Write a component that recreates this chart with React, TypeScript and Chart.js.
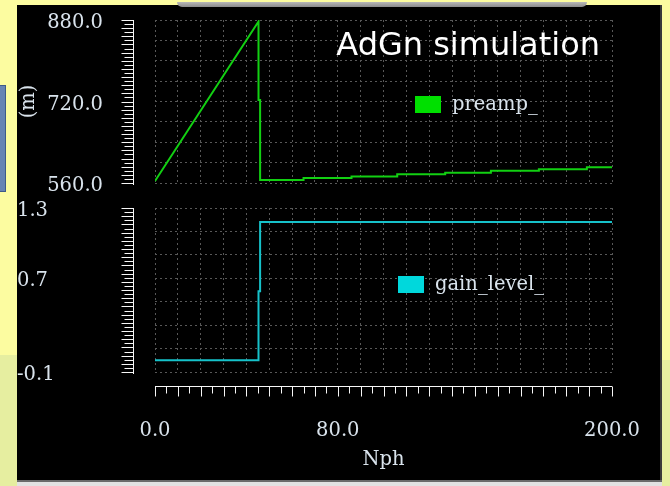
import React, { useEffect, useRef } from 'react';
import { Chart, registerables } from 'chart.js';

Chart.register(...registerables);

// ---- data ----
const nphPreamp = [0, 45.3, 45.3, 46.0, 46.0, 65, 65, 86, 86, 106, 106, 127, 127, 147, 147, 168, 168, 189, 189, 200];
const preampValues = [564, 877, 723, 723, 566, 566, 570, 570, 573, 573, 577, 577, 580, 580, 584, 584, 587, 587, 591, 591];
const nphGain = [0, 45.3, 45.3, 46.0, 46.0, 200];
const gainValues = [0, 0, 0.59, 0.59, 1.18, 1.18];

const xRange = [0, 200];
const preampRange = [560, 880];
const gainRange = [-0.1, 1.3];
const xTickLabelValues = [0, 80, 200];
const preampTickLabelValues = [560, 720, 880];
const gainTickLabelValues = [-0.1, 0.7, 1.3];
const xGridStep = 10;
const preampGridStep = 40;
const gainGridStep = 0.2;

const seriesNames = ['preamp_', 'gain_level_'];
const chartTitle = 'AdGn simulation';
const preampAxisTitle = '(m)';
const xAxisTitle = 'Nph';

// ---- styles ----
const TEXT = '#d9e3ec';
const SERIF = "'DejaVu Serif', serif";
const FONT = { family: SERIF, size: 19.5 };
const GRID = { color: '#585858', lineWidth: 1, drawTicks: false, tickLength: 0 };
const BORDER = { display: false, dash: [2, 3] };
const NOGRID = { display: false, drawTicks: false, tickLength: 0 };

const fixedTicks = (values: number[]) => (s: any) => {
  s.ticks = values.map((value) => ({ value }));
};
const fmt = (v: any) => Number(v).toFixed(1);

const rulerPlugin = {
  id: 'ruler',
  afterDraw(chart: any, _a: any, opts: any) {
    const ctx = chart.ctx;
    const { left, bottom } = chart.chartArea;
    ctx.save();
    ctx.strokeStyle = '#f6f6f6';
    ctx.lineWidth = 1;
    const n = opts.divisions;
    const sy = chart.scales.y;
    const x0 = Math.round(left - 22) + 0.5;
    ctx.beginPath();
    ctx.moveTo(x0, sy.getPixelForValue(sy.max));
    ctx.lineTo(x0, sy.getPixelForValue(sy.min) + 2);
    for (let i = 0; i <= n; i++) {
      const v = sy.max - ((sy.max - sy.min) * i) / n;
      const y = Math.round(sy.getPixelForValue(v)) + 0.5;
      const len = i % 2 === 0 ? 12 : 9;
      ctx.moveTo(x0, y);
      ctx.lineTo(x0 - len, y);
    }
    ctx.stroke();
    if (opts.x) {
      const sx = chart.scales.x;
      const y0 = Math.round(bottom + 14) + 0.5;
      ctx.beginPath();
      ctx.moveTo(sx.getPixelForValue(sx.min), y0);
      ctx.lineTo(sx.getPixelForValue(sx.max), y0);
      for (let i = 0; i <= n; i++) {
        const v = sx.min + ((sx.max - sx.min) * i) / n;
        const x = Math.round(sx.getPixelForValue(v)) + 0.5;
        const len = i % 2 === 0 ? 10 : 7;
        ctx.moveTo(x, y0);
        ctx.lineTo(x, y0 + len);
      }
      ctx.stroke();
    }
    ctx.restore();
  },
};

const boxLegendPlugin = {
  id: 'boxLegend',
  afterDatasetsDraw(chart: any, _a: any, opts: any) {
    const ctx = chart.ctx;
    const { left, top, width, height } = chart.chartArea;
    ctx.save();
    chart.data.datasets.forEach((ds: any) => {
      const x = Math.round(left + width * opts.fx);
      const y = Math.round(top + height * opts.fy);
      ctx.fillStyle = ds.backgroundColor;
      ctx.fillRect(x, y, 26, 17);
      ctx.font = `${FONT.size}px ${SERIF}`;
      ctx.fillStyle = TEXT;
      ctx.textAlign = 'left';
      ctx.textBaseline = 'alphabetic';
      ctx.fillText(ds.label, x + 37, y + 14);
    });
    ctx.restore();
  },
};

const cornerTitlePlugin = {
  id: 'cornerTitle',
  afterDatasetsDraw(chart: any, _a: any, opts: any) {
    if (!opts || !opts.text) return;
    const ctx = chart.ctx;
    const { right, top } = chart.chartArea;
    ctx.save();
    ctx.font = "32px 'DejaVu Sans', sans-serif";
    ctx.fillStyle = '#ffffff';
    ctx.textAlign = 'right';
    ctx.textBaseline = 'alphabetic';
    ctx.fillText(opts.text, right - 12, top + 35);
    ctx.restore();
  },
};

const toPoints = (xs: number[], ys: number[]) => xs.map((x, i) => ({ x, y: ys[i] }));

export default function App() {
  const topRef = useRef<HTMLCanvasElement>(null);
  const botRef = useRef<HTMLCanvasElement>(null);

  useEffect(() => {
    const top = new Chart(topRef.current as HTMLCanvasElement, {
      type: 'line',
      data: {
        datasets: [
          {
            label: seriesNames[0],
            data: toPoints(nphPreamp, preampValues),
            borderColor: '#12d012',
            backgroundColor: '#00e000',
            borderWidth: 2,
            pointRadius: 0,
            tension: 0,
            xAxisID: 'x',
            yAxisID: 'y',
          },
        ],
      },
      plugins: [rulerPlugin, boxLegendPlugin, cornerTitlePlugin],
      options: {
        responsive: false,
        animation: false,
        events: [],
        layout: { padding: { left: 0, right: 48, top: 15, bottom: 12 } },
        scales: {
          x: {
            type: 'linear',
            min: xRange[0],
            max: xRange[1],
            afterFit: (s: any) => { s.height = 0; },
            ticks: { stepSize: xGridStep, autoSkip: false, display: false },
            grid: GRID,
            border: BORDER,
          },
          y: {
            type: 'linear',
            position: 'left',
            weight: 0,
            min: preampRange[0],
            max: preampRange[1],
            afterFit: (s: any) => { s.width = 52; },
            ticks: { stepSize: preampGridStep, autoSkip: false, display: false },
            grid: GRID,
            border: BORDER,
          },
          yl: {
            type: 'linear',
            position: 'left',
            weight: 1,
            min: preampRange[0],
            max: preampRange[1],
            afterBuildTicks: fixedTicks(preampTickLabelValues),
            afterFit: (s: any) => { s.width = 86; },
            ticks: { autoSkip: false, padding: 0, labelOffset: 3, color: TEXT, font: FONT, callback: fmt },
            grid: NOGRID,
            border: { display: false },
            title: { display: true, text: preampAxisTitle, color: TEXT, font: FONT, padding: { top: 0, bottom: 0 } },
          },
        },
        plugins: {
          legend: { display: false },
          tooltip: { enabled: false },
          ruler: { divisions: 40, x: false },
          boxLegend: { fx: 0.569, fy: 0.466 },
          cornerTitle: { text: chartTitle },
        } as any,
      },
    } as any);

    const bot = new Chart(botRef.current as HTMLCanvasElement, {
      type: 'line',
      data: {
        datasets: [
          {
            label: seriesNames[1],
            data: toPoints(nphGain, gainValues),
            borderColor: '#16c2ca',
            backgroundColor: '#00d8dc',
            borderWidth: 2,
            pointRadius: 0,
            tension: 0,
            xAxisID: 'x',
            yAxisID: 'y',
          },
        ],
      },
      plugins: [rulerPlugin, boxLegendPlugin],
      options: {
        responsive: false,
        animation: false,
        events: [],
        layout: { padding: { left: 0, right: 48, top: 13, bottom: 0 } },
        scales: {
          x: {
            type: 'linear',
            position: 'bottom',
            weight: 0,
            min: xRange[0],
            max: xRange[1],
            afterFit: (s: any) => { s.height = 47; },
            ticks: { stepSize: xGridStep, autoSkip: false, display: false },
            grid: GRID,
            border: BORDER,
          },
          xl: {
            type: 'linear',
            position: 'bottom',
            weight: 1,
            min: xRange[0],
            max: xRange[1],
            afterBuildTicks: fixedTicks(xTickLabelValues),
            afterFit: (s: any) => { s.height = 63; },
            ticks: { autoSkip: false, maxRotation: 0, padding: 0, color: TEXT, font: FONT, callback: fmt },
            grid: NOGRID,
            border: { display: false },
            title: { display: true, text: xAxisTitle, color: TEXT, font: FONT, padding: { top: 0, bottom: 10 } },
          },
          y: {
            type: 'linear',
            position: 'left',
            weight: 0,
            min: gainRange[0],
            max: gainRange[1],
            afterFit: (s: any) => { s.width = 52; },
            ticks: { stepSize: gainGridStep, autoSkip: false, display: false },
            grid: GRID,
            border: BORDER,
          },
          yl: {
            type: 'linear',
            position: 'left',
            weight: 1,
            min: gainRange[0],
            max: gainRange[1],
            afterBuildTicks: fixedTicks(gainTickLabelValues),
            afterFit: (s: any) => { s.width = 86; },
            ticks: { autoSkip: false, padding: 0, labelOffset: 3, crossAlign: 'far', color: TEXT, font: FONT, callback: fmt },
            grid: NOGRID,
            border: { display: false },
          },
        },
        plugins: {
          legend: { display: false },
          tooltip: { enabled: false },
          ruler: { divisions: 40, x: true },
          boxLegend: { fx: 0.532, fy: 0.415 },
        } as any,
      },
    } as any);

    return () => {
      top.destroy();
      bot.destroy();
    };
  }, []);

  const abs = (l: number, t: number, w: number, h: number, extra: any = {}) => ({
    position: 'absolute' as const, left: l, top: t, width: w, height: h, ...extra,
  });

  return (
    <div style={{ position: 'fixed', left: 0, top: 0, width: 670, height: 486, background: '#fcfca0', overflow: 'hidden' }}>
      <div style={abs(0, 355, 17, 131, { background: '#e6eea0' })} />
      <div style={abs(662, 360, 8, 126, { background: '#e6eea0' })} />
      <div style={abs(0, 85, 5, 105, { background: '#6784b3', borderRight: '1px solid #3d5a88', borderTop: '1px solid #3d5a88', borderBottom: '1px solid #3d5a88' })} />
      <div style={abs(17, 5, 645, 476, { background: '#000' })} />
      <div style={abs(660, 5, 2, 476, { background: '#3a3a3a' })} />
      <div style={abs(177, 2, 410, 5, { background: 'linear-gradient(#b8b8b8, #8a8a8a)', borderRadius: '0 0 5px 5px' })} />
      <div style={abs(17, 480, 645, 2, { background: '#6a6a6a' })} />
      <div style={abs(17, 482, 645, 4, { background: '#e2e2e2' })} />
      <canvas ref={topRef} width={643} height={190} style={abs(17, 5, 643, 190)} />
      <canvas ref={botRef} width={643} height={287} style={abs(17, 195, 643, 287)} />
    </div>
  );
}
